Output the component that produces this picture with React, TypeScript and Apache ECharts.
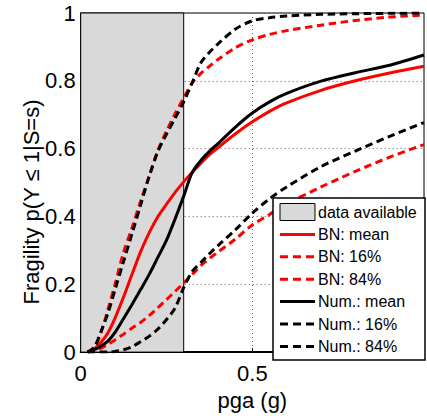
import React, { useEffect, useRef } from "react";
import * as echarts from "echarts";

// pga grid (g)
const pga = [0.02, 0.04, 0.06, 0.08, 0.1, 0.125, 0.15, 0.175, 0.2, 0.225, 0.25, 0.275, 0.3, 0.325, 0.35, 0.375, 0.4, 0.45, 0.5, 0.55, 0.6, 0.7, 0.8, 0.9, 1.0];

const bnMean = [0.0, 0.01, 0.03, 0.058, 0.1, 0.163, 0.231, 0.297, 0.353, 0.4, 0.436, 0.471, 0.502, 0.53, 0.557, 0.582, 0.603, 0.643, 0.679, 0.71, 0.735, 0.772, 0.8, 0.823, 0.843];
const bn16 = [0.0, 0.015, 0.06, 0.128, 0.2, 0.295, 0.368, 0.447, 0.52, 0.595, 0.652, 0.703, 0.75, 0.794, 0.822, 0.843, 0.863, 0.897, 0.921, 0.937, 0.948, 0.964, 0.978, 0.988, 0.994];
const bn84 = [0.0, 0.003, 0.012, 0.023, 0.036, 0.053, 0.071, 0.088, 0.108, 0.131, 0.155, 0.179, 0.204, 0.229, 0.255, 0.276, 0.295, 0.333, 0.375, 0.406, 0.437, 0.487, 0.533, 0.575, 0.612];
const numMean = [0.0, 0.007, 0.018, 0.033, 0.058, 0.099, 0.141, 0.185, 0.23, 0.28, 0.33, 0.393, 0.46, 0.53, 0.565, 0.592, 0.615, 0.663, 0.705, 0.738, 0.763, 0.799, 0.824, 0.846, 0.876];
const num16 = [0.0, 0.015, 0.063, 0.117, 0.184, 0.268, 0.351, 0.435, 0.52, 0.592, 0.643, 0.69, 0.738, 0.795, 0.853, 0.884, 0.909, 0.952, 0.977, 0.986, 0.991, 0.996, 0.998, 0.999, 1.0];
const num84 = [0.0, 0.0, 0.0, 0.0, 0.002, 0.007, 0.016, 0.031, 0.047, 0.068, 0.096, 0.13, 0.19, 0.238, 0.264, 0.29, 0.314, 0.36, 0.41, 0.452, 0.487, 0.547, 0.593, 0.636, 0.677];

const dataRange = [0, 0.3];
const xTicks = [0, 0.5, 1];
const yTicks = [0, 0.2, 0.4, 0.6, 0.8, 1];
const legendNames = ["data available", "BN: mean", "BN: 16%", "BN: 84%", "Num.: mean", "Num.: 16%", "Num.: 84%"];
const yName = "Fragility p(Y \u2264 1|S=s)";

const FONT = "'Liberation Sans', Arial, Helvetica, sans-serif";
const DASH = [7.5, 4.5];
const RED = "#ff0000";
const BLACK = "#000000";
const GRAY = "#d9d9d9";

export default function App() {
  const ref = useRef<HTMLDivElement>(null);
  useEffect(() => {
    document.body.style.margin = "0";
    const chart = echarts.init(ref.current!, null, { renderer: "svg" });
    const pair = (ys: number[]) => pga.map((x, i) => [x, ys[i]]);
    const styles = [
      { color: RED, dashed: false, data: bnMean },
      { color: RED, dashed: true, data: bn16 },
      { color: RED, dashed: true, data: bn84 },
      { color: BLACK, dashed: false, data: numMean },
      { color: BLACK, dashed: true, data: num16 },
      { color: BLACK, dashed: true, data: num84 },
    ];
    const lineSeries = styles.map((s, i) => ({
      name: legendNames[i + 1],
      type: "line",
      data: pair(s.data),
      showSymbol: false,
      symbol: "none",
      smooth: 0.3,
      lineStyle: { color: s.color, width: 3, type: s.dashed ? DASH : "solid" },
      itemStyle: { color: s.color },
      z: 3,
    }));

    // legend drawn as graphic
    const lgLeft = 273, lgTop = 198, lgW = 152, lgH = 162;
    const rowY0 = 212, rowStep = 22.4;
    const iconX0 = 280, iconX1 = 315, textX = 318;
    const legendEls: any[] = [
      {
        type: "rect",
        shape: { x: lgLeft, y: lgTop, width: lgW, height: lgH },
        style: { fill: "#fff", stroke: "#000", lineWidth: 1.5 },
        z: 100,
      },
      {
        type: "rect",
        shape: { x: iconX0, y: rowY0 - 8.5, width: iconX1 - iconX0, height: 17 },
        style: { fill: GRAY, stroke: "#000", lineWidth: 1 },
        z: 101,
      },
    ];
    legendNames.forEach((n, i) => {
      const y = rowY0 + i * rowStep;
      if (i > 0) {
        const s = styles[i - 1];
        legendEls.push({
          type: "line",
          shape: { x1: iconX0, y1: y, x2: iconX1, y2: y },
          style: { stroke: s.color, lineWidth: 3, lineDash: s.dashed ? [8, 5] : null },
          z: 101,
        });
      }
      legendEls.push({
        type: "text",
        x: textX,
        y,
        style: { text: n, fontSize: 16, fontFamily: FONT, fill: "#000", align: "left", verticalAlign: "middle" },
        z: 101,
      });
    });
    legendEls.push({
      type: "text",
      x: 31,
      y: 202,
      rotation: Math.PI / 2,
      style: { text: yName, fontSize: 22, fontFamily: FONT, fill: "#000", align: "center", verticalAlign: "middle" },
      z: 101,
    });

    chart.setOption({
      animation: false,
      textStyle: { fontFamily: FONT },
      grid: {
        left: 80.7,
        top: 13,
        width: 347.5,
        height: 350,
        show: true,
        borderColor: "#000",
        borderWidth: 1,
        backgroundColor: "transparent",
      },
      graphic: legendEls,
      xAxis: {
        type: "value",
        min: 0,
        max: 1,
        interval: 0.5,
        name: "pga (g)",
        nameLocation: "middle",
        nameGap: 24,
        nameTextStyle: { fontSize: 22, color: "#000", fontFamily: FONT },
        axisLine: { show: true, lineStyle: { color: "#000", width: 2 } },
        axisTick: { show: true, inside: true, length: 4, lineStyle: { color: "#000" } },
        axisLabel: {
          fontSize: 22,
          color: "#000",
          margin: 10,
          fontFamily: FONT,
          formatter: (v: number) => (xTicks.indexOf(v) >= 0 && v < 1 ? String(v) : ""),
        },
        splitLine: { show: true, lineStyle: { color: "#666", type: [1, 3], width: 1 } },
      },
      yAxis: {
        type: "value",
        min: 0,
        max: 1,
        interval: 0.2,
        axisLine: { show: true, lineStyle: { color: "#000", width: 1 } },
        axisTick: { show: true, inside: true, length: 4, lineStyle: { color: "#000" } },
        axisLabel: {
          fontSize: 22,
          color: "#000",
          margin: 5,
          fontFamily: FONT,
          formatter: (v: number) => {
            const t = yTicks.find((k) => Math.abs(k - v) < 1e-9);
            return t === undefined ? "" : String(t);
          },
        },
        splitLine: { show: true, lineStyle: { color: "#666", type: [1, 3], width: 1 } },
      },
      series: [
        {
          name: legendNames[0],
          type: "line",
          data: [],
          z: 2,
          markArea: {
            silent: true,
            itemStyle: { color: GRAY, borderColor: "#000", borderWidth: 1 },
            data: [[{ xAxis: dataRange[0] }, { xAxis: dataRange[1] }]],
          },
        },
        ...lineSeries,
      ],
    });
    return () => chart.dispose();
  }, []);
  return <div ref={ref} style={{ width: 427, height: 416 }} />;
}
